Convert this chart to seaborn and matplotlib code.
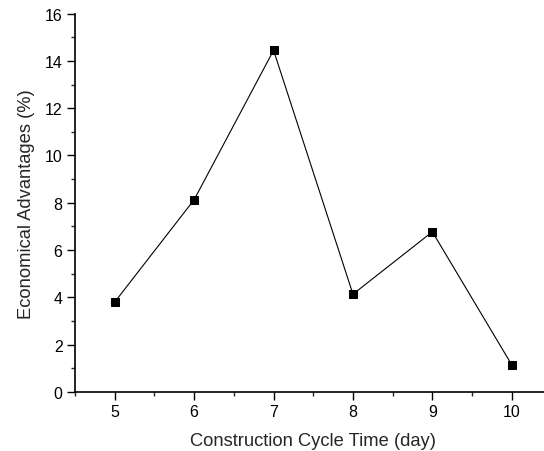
import matplotlib
matplotlib.use('Agg')
import matplotlib.pyplot as plt
import seaborn as sns
import pandas as pd
from matplotlib.ticker import MultipleLocator

# data
cycle_days = [5, 6, 7, 8, 9, 10]
advantage_pct = [3.80, 8.13, 14.45, 4.13, 6.77, 1.14]

df = pd.DataFrame({'cycle': cycle_days, 'adv': advantage_pct})

sns.set_style('ticks')
plt.rcParams['font.family'] = ['Liberation Sans', 'DejaVu Sans']

fig = plt.figure(figsize=(5.44, 4.52), dpi=100)
ax = fig.add_axes([0.138, 0.131, 0.8757, 0.8365])

sns.lineplot(data=df, x='cycle', y='adv', ax=ax, color='black', linewidth=0.8,
             marker='s', markersize=6, markeredgecolor='black', markerfacecolor='black')

ax.set_xlim(4.5, 10.5)
ax.set_ylim(0, 16)
ax.xaxis.set_major_locator(MultipleLocator(1))
ax.xaxis.set_minor_locator(MultipleLocator(0.5))
ax.yaxis.set_major_locator(MultipleLocator(2))
ax.yaxis.set_minor_locator(MultipleLocator(1))

ax.tick_params(which='major', direction='out', length=5.5, width=1, labelsize=11.5, colors='black')
ax.tick_params(which='minor', direction='out', length=3, width=1)

for side in ['top', 'right']:
    ax.spines[side].set_visible(False)
for side in ['left', 'bottom']:
    ax.spines[side].set_linewidth(1.2)
    ax.spines[side].set_color('black')

ax.set_xlabel('Construction Cycle Time (day)', fontsize=13.2, labelpad=9)
ax.set_ylabel('Economical Advantages (%)', fontsize=13.2, labelpad=7)

fig.savefig('out.png', dpi=100)
